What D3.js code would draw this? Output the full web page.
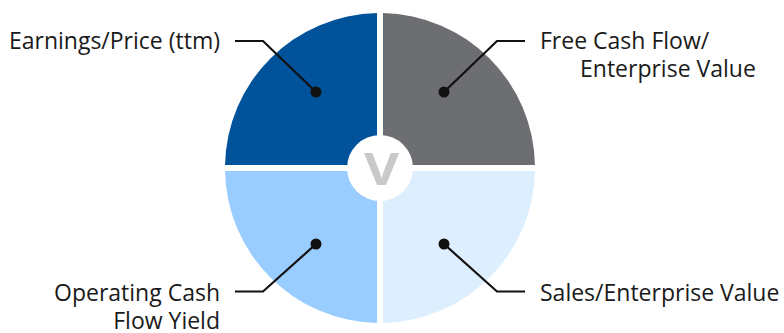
<!DOCTYPE html>
<html>
<head>
<meta charset="utf-8">
<script src="https://cdn.jsdelivr.net/npm/d3@7"></script>
<style>
  html, body { margin: 0; padding: 0; background: #fff; }
  svg { display: block; }
  text { font-family: "Open Sans", "Noto Sans", sans-serif; }
</style>
</head>
<body>
<svg id="chart" width="784" height="333"></svg>
<script>
// ---- data ----
const categories = ["Earnings/Price (ttm)", "Free Cash Flow/Enterprise Value", "Sales/Enterprise Value", "Operating Cash Flow Yield"];
const values = [1, 1, 1, 1];
const labelLines = [["Earnings/Price (ttm)"], ["Free Cash Flow/", "Enterprise Value"], ["Sales/Enterprise Value"], ["Operating Cash", "Flow Yield"]];
const centerLetter = "V";
const colors = ["#00529b", "#6d6e71", "#ddeeff", "#99ccff"];

// ---- layout ----
const W = 784, H = 333;
const cx = 380, cy = 168, R = 155, gap = 6;
const svg = d3.select("#chart");
const g = svg.append("g").attr("transform", `translate(${cx},${cy})`);

const pie = d3.pie().sort(null).startAngle(-Math.PI / 2).endAngle(1.5 * Math.PI);
const arcs = pie(values);
const arc = d3.arc().innerRadius(20).outerRadius(R).padRadius(R).padAngle(gap / R);

g.selectAll("path.slice").data(arcs).join("path")
  .attr("class", "slice")
  .attr("d", arc)
  .attr("fill", (d, i) => colors[i]);

// center circle + letter
g.append("circle").attr("r", 33).attr("fill", "#fff");
g.append("text")
  .attr("text-anchor", "middle")
  .attr("transform", "translate(1.5,17) scale(1.2,1)")
  .attr("font-family", "'Liberation Sans', Arial, sans-serif")
  .attr("font-weight", "bold")
  .attr("font-size", 45)
  .attr("fill", "#c9c9c9")
  .text(centerLetter);

// leader lines & labels
const dotOff = { x: 64, y: 76 };
const elbow = { x: 117, yTop: 127, yBot: 123.5 };
const lineEndX = 145, textX = 160, lineH = 27.5;
const indent = [0, 40, 0, 0];

arcs.forEach((a, i) => {
  const c = arc.centroid(a);
  const sx = Math.sign(c[0]), sy = Math.sign(c[1]);
  const dot = [sx * dotOff.x, sy * dotOff.y];
  const ey = sy < 0 ? -elbow.yTop : elbow.yBot;
  const el = [sx * elbow.x, ey];
  const en = [sx * lineEndX, ey];
  g.append("path")
    .attr("d", d3.line()([dot, el, en]))
    .attr("fill", "none")
    .attr("stroke", "#111")
    .attr("stroke-width", 2.2);
  g.append("circle").attr("cx", dot[0]).attr("cy", dot[1]).attr("r", 5.5).attr("fill", "#111");
  const t = g.append("text")
    .attr("font-size", 23)
    .attr("fill", "#1a1a1a")
    .attr("text-anchor", sx < 0 ? "end" : "start");
  const base = ey + (sy < 0 ? 8 : 9.5);
  labelLines[i].forEach((ln, j) => {
    t.append("tspan")
      .attr("x", sx * textX + (j > 0 ? sx * indent[i] * -1 * -1 : 0))
      .attr("y", base + j * lineH)
      .text(ln);
  });
});
</script>
</body>
</html>
